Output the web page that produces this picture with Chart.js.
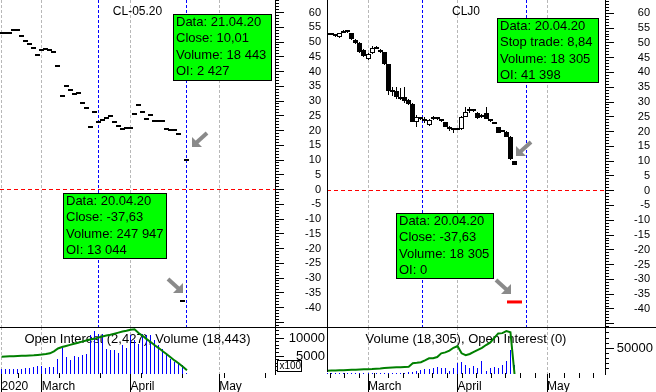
<!DOCTYPE html>
<html>
<head>
<meta charset="utf-8">
<title>CL-05.20 / CLJ0</title>
<script src="https://cdn.jsdelivr.net/npm/chart.js@4.4.1/dist/chart.umd.min.js"></script>
<style>
  html, body { margin: 0; padding: 0; background: #fff; }
  #wrap { position: relative; width: 656px; height: 392px; overflow: hidden; }
  #wrap canvas { position: absolute; }
</style>
</head>
<body>
<div id="wrap">
  <canvas id="leftPrice" width="327" height="327" style="left:0px;top:0px;width:327px;height:327px"></canvas>
  <canvas id="leftVol" width="327" height="65" style="left:0px;top:327px;width:327px;height:65px"></canvas>
  <canvas id="rightPrice" width="329" height="327" style="left:327px;top:0px;width:329px;height:327px"></canvas>
  <canvas id="rightVol" width="329" height="65" style="left:327px;top:327px;width:329px;height:65px"></canvas>
</div>
<script>
const FONT = 'Arial, "Liberation Sans", sans-serif';

// trading days shown on both panels (index = position on the x axis)
const days = ['14.02','18.02','19.02','20.02','21.02','24.02','25.02','26.02','27.02','28.02',
  '02.03','03.03','04.03','05.03','06.03','09.03','10.03','11.03','12.03','13.03',
  '16.03','17.03','18.03','19.03','20.03','23.03','24.03','25.03','26.03','27.03',
  '30.03','31.03','01.04','02.04','03.04','06.04','07.04','08.04','09.04','10.04',
  '13.04','14.04','15.04','16.04','17.04','20.04','21.04'];

// CL-05.20 (left panel)
const clClose = [52.9, 52.9, 53.2, 54.1, 54.1, 52.0, 50.4, 49.3, 47.9, 45.5,
  47.4, 47.7, 47.3, 46.5, 41.9, 31.8, 35.0, 33.7, 32.3, 32.6,
  29.2, 27.5, 21.1, 26.2, 22.8, 23.5, 24.1, 24.8, 22.8, 21.6,
  20.5, 20.8, 20.8, 25.5, 28.5, 26.2, 23.9, 25.1, 23.1, 23.1,
  23.1, 20.5, 20.2, 20.2, 18.7, -37.63, 10.01];
// volume and open interest, hundreds of contracts (axis is x100)
const clVolume = [1300, 1300, 1300, 1400, 1300, 1500, 1600, 1800, 1900, 2100,
  2200, 1800, 1900, 2000, 4100, 7100, 4600, 3900, 5100, 4600,
  5300, 5600, 10800, 11900, 11000, 11100, 6900, 6700, 6700, 5700,
  8100, 7100, 10800, 9500, 8400, 11200, 10700, 10700, 9400, 8000,
  7000, 5600, 4300, 3300, 2700, 2479, 184];
const clOpenInt = [4800, 4850, 4900, 4950, 5000, 5050, 5100, 5150, 5200, 5300,
  5400, 5550, 5750, 6300, 7100, 7500, 7800, 8100, 8400, 8700,
  9000, 9300, 9600, 9800, 10100, 10400, 10700, 10900, 11200, 11500,
  11800, 12000, 12300, 12400, 11400, 10600, 9700, 8900, 8000, 7200,
  6300, 5500, 4600, 3700, 2900, 2000, 1030];

// CLJ0 candles (right panel)
const cljOpen = [52.8, 53.0, 52.6, 51.9, 53.4, 54.1, 53.4, 51.0, 50.0, 47.6,
  44.6, 46.5, 48.6, 47.6, 46.8, 42.8, 33.9, 33.8, 31.8, 31.6,
  30.6, 29.4, 23.3, 24.6, 24.4, 22.2, 24.2, 24.5, 24.0, 23.2,
  21.3, 21.1, 20.6, 20.7, 25.0, 26.8, 27.2, 26.2, 24.8, 26.4,
  24.0, 23.0, 21.4, 20.0, 20.0, 18.3, 10.1];
const cljHigh = [53.0, 53.2, 52.9, 53.4, 54.2, 54.3, 53.5, 51.2, 50.2, 48.0,
  46.6, 48.8, 48.8, 47.8, 47.0, 42.9, 35.0, 35.0, 34.6, 35.0,
  30.9, 29.6, 25.6, 25.0, 25.0, 24.1, 25.2, 25.0, 24.3, 23.4,
  21.9, 21.3, 21.2, 25.2, 28.4, 28.4, 27.6, 26.6, 25.8, 28.2,
  24.2, 23.3, 21.6, 20.4, 20.3, 18.4, 10.2];
const cljLow = [52.8, 52.6, 52.0, 51.8, 53.2, 53.4, 51.0, 49.7, 46.7, 45.2,
  44.2, 46.2, 47.8, 46.6, 42.6, 32.4, 32.0, 31.1, 30.7, 29.5,
  29.0, 23.2, 21.6, 23.9, 23.0, 22.0, 23.8, 23.9, 23.3, 21.5,
  20.3, 19.4, 20.4, 20.5, 24.8, 26.2, 26.6, 24.3, 24.6, 24.2,
  23.2, 22.4, 19.5, 19.8, 18.2, 10.3, 8.7];
const cljClose = [53.0, 52.8, 52.2, 53.2, 54.0, 53.6, 51.2, 49.9, 46.9, 45.6,
  46.3, 48.4, 48.0, 46.8, 42.8, 33.8, 33.5, 31.8, 31.0, 30.3,
  29.3, 23.4, 25.0, 24.2, 23.6, 23.9, 24.5, 24.2, 23.5, 21.7,
  20.9, 20.5, 21.0, 25.0, 26.7, 27.2, 26.8, 24.5, 25.6, 24.4,
  23.5, 22.6, 19.6, 20.3, 18.3, 10.6, 8.84];
const cljVolume = [1200, 1400, 1300, 1500, 1400, 1600, 1500, 1700, 1600, 1800,
  1900, 1700, 1800, 2000, 2200, 2600, 2400, 2300, 2600, 2800,
  3000, 4500, 6500, 7800, 9100, 9100, 11000, 14300, 11000, 12000,
  5800, 12300, 20700, 22600, 17500, 10900, 15500, 10900, 25300, 5800,
  10900, 14200, 10900, 17500, 25300, 46700, 18305];
const cljOpenInt = [6400, 6600, 6900, 7200, 7500, 7800, 8100, 8400, 8700, 9000,
  9200, 9600, 10200, 10800, 11600, 12100, 12500, 12900, 13300, 13800,
  14300, 20800, 21800, 23000, 26500, 30500, 30500, 33000, 40200, 42000,
  45500, 51000, 54500, 40200, 36500, 39000, 43000, 47000, 51000, 56400,
  61000, 70000, 79000, 79500, 83600, 81000, 0];
const cljLastClose = -37.63;

// axis labels
const priceLabels = [60, 55, 50, 45, 40, 35, 30, 25, 20, 15, 10, 5, 0, -5, -10, -15, -20, -25, -30, -35, -40];
const priceMarks = priceLabels.concat([-45]);
const leftVolLabels = [10000, 5000];
const rightVolLabels = [50000];
const leftMonths = ['2020', 'March', 'April', 'May'];
const rightMonths = ['March', 'April', 'May'];
// first trading day of each month on the same index axis (01.05 = 54)
const leftMonthAt = [0, 10, 32, 54];
const rightMonthAt = [10, 32, 54];

const leftNoteTop = ['Data: 21.04.20', 'Close: 10,01', 'Volume: 18 443', 'OI: 2 427'];
const leftNoteLow = ['Data: 20.04.20', 'Close: -37,63', 'Volume: 247 947', 'OI: 13 044'];
const rightNoteTop = ['Data: 20.04.20', 'Stop trade: 8,84', 'Volume: 18 305', 'OI: 41 398'];
const rightNoteLow = ['Data: 20.04.20', 'Close: -37,63', 'Volume: 18 305', 'OI: 0'];

Chart.defaults.font.family = FONT;

// value axis on the right; its labels are written by panelDecor
function valueAxis(o) {
  return {
    position: 'right', min: o.min, max: o.max,
    afterFit: s => { s.width = o.width; s.paddingTop = 0; s.paddingBottom = 0; },
    afterBuildTicks: s => { s.ticks = o.marks.map(v => ({ value: v })); },
    grid: { drawOnChartArea: false, drawTicks: true, tickLength: 9, color: '#000', lineWidth: 1 },
    border: { display: true, color: '#000', width: 1 },
    ticks: { display: false }
  };
}

function timeAxis(o) {
  if (!o.names) return { type: 'linear', display: false, min: o.min, max: o.max, offset: false };
  return {
    type: 'linear', min: o.min, max: o.max, offset: false, position: 'bottom',
    afterFit: s => { s.height = 18; s.paddingLeft = 0; s.paddingRight = 0; },
    afterBuildTicks: s => { s.ticks = o.at.map(v => ({ value: v })); },
    grid: { display: false, drawTicks: false },
    border: { display: false },
    ticks: {
      align: 'start', padding: 5, maxRotation: 0, minRotation: 0, autoSkip: false,
      color: '#000', font: { family: FONT, size: 12 },
      callback: (v, n) => o.names[n]
    }
  };
}

// put thin marks on whole pixels so they stay crisp
function snapMarks(chart) {
  chart.getSortedVisibleDatasetMetas().forEach(meta => {
    if (!chart.data.datasets[meta.index].snap) return;
    meta.data.forEach(el => {
      if (!isFinite(el.x)) return;
      el.x = Math.floor(el.x) + 0.5;
      el.y = Math.round(el.y);
      if (el.base !== undefined) el.base = Math.round(el.base);
    });
  });
}

function line(ctx, x0, y0, x1, y1, color, dash) {
  ctx.save();
  ctx.strokeStyle = color;
  ctx.lineWidth = 1;
  ctx.setLineDash(dash || []);
  ctx.beginPath();
  ctx.moveTo(x0, y0);
  ctx.lineTo(x1, y1);
  ctx.stroke();
  ctx.restore();
}

function noteBox(ctx, n) {
  ctx.save();
  ctx.fillStyle = '#00ff00';
  ctx.fillRect(n.x, n.y, n.w, n.h);
  ctx.strokeStyle = '#000';
  ctx.lineWidth = 1;
  ctx.strokeRect(n.x + 0.5, n.y + 0.5, n.w - 1, n.h - 1);
  ctx.fillStyle = '#000';
  ctx.font = '13px ' + FONT;
  ctx.textAlign = 'left';
  ctx.textBaseline = 'middle';
  n.lines.forEach((t, k) => ctx.fillText(t, n.x + 3, n.y + 8.5 + k * 16.3));
  ctx.restore();
}

function arrow(ctx, a) {
  const w = 15, h = 14, head = 10;
  const sx = a.dir === 'dl' ? 1 : -1;
  const tipX = a.dir === 'dl' ? a.x : a.x + w;
  const tailX = a.dir === 'dl' ? a.x + w : a.x;
  const tipY = a.y + h;
  ctx.save();
  ctx.fillStyle = '#8a8a8a';
  ctx.strokeStyle = '#8a8a8a';
  ctx.beginPath();
  ctx.moveTo(tipX, tipY);
  ctx.lineTo(tipX, tipY - head);
  ctx.lineTo(tipX + sx * head, tipY);
  ctx.closePath();
  ctx.fill();
  ctx.lineWidth = 4;
  ctx.beginPath();
  ctx.moveTo(tipX + sx * 4, tipY - 4);
  ctx.lineTo(tailX, a.y);
  ctx.stroke();
  ctx.restore();
}

function panelDecor(p) {
  return {
    id: 'panelDecor',
    beforeDatasetsDraw(chart) {
      const ctx = chart.ctx, a = chart.chartArea, xs = chart.scales.x, ys = chart.scales.y;
      snapMarks(chart);
      p.months.forEach(i => {
        const x = Math.floor(xs.getPixelForValue(i)) + 0.5;
        line(ctx, x, a.top, x, a.bottom, '#b8b8b8', [3, 2]);
        if (p.kind === 'volume') line(ctx, x, a.bottom, x, chart.height, '#000');
      });
      if (p.kind === 'price') {
        p.blue.forEach(i => {
          const x = Math.floor(xs.getPixelForValue(i)) + 0.5;
          line(ctx, x, a.top, x, a.bottom, '#0000ff', [3, 2]);
        });
        const y0 = Math.round(ys.getPixelForValue(0) - 0.5) + 0.5;
        line(ctx, a.left, y0, a.right, y0, '#ff0000', [4, 3]);
      }
      ctx.save();
      ctx.fillStyle = '#000';
      if (p.kind === 'volume') {
        for (let i = p.tickStart; xs.getPixelForValue(i) < a.right; i += p.tickStep) {
          ctx.fillRect(Math.floor(xs.getPixelForValue(i)), a.bottom - 1, 1, 5);
        }
      }
      // minor ticks on the value axis
      for (let v = p.minorStep; v <= ys.max; v += p.minorStep) {
        if (p.majors.includes(v)) continue;
        ctx.fillRect(a.right, Math.round(ys.getPixelForValue(v) - 0.5), 4, 1);
      }
      for (let v = -p.minorStep; v >= ys.min; v -= p.minorStep) {
        if (p.majors.includes(v)) continue;
        ctx.fillRect(a.right, Math.round(ys.getPixelForValue(v) - 0.5), 4, 1);
      }
      // panel caption
      ctx.font = p.titleSize + 'px ' + FONT;
      ctx.textAlign = 'center';
      ctx.textBaseline = 'middle';
      ctx.fillText(p.title, (a.left + a.right) / 2, 12);
      ctx.restore();
    },
    afterDraw(chart) {
      const ctx = chart.ctx, a = chart.chartArea, ys = chart.scales.y;
      ctx.save();
      ctx.fillStyle = '#000';
      // value labels, right aligned against labelRight
      ctx.font = p.labelSize + 'px ' + FONT;
      ctx.textAlign = 'left';
      ctx.textBaseline = 'middle';
      p.labels.forEach(v => {
        const t = String(v);
        ctx.fillText(t, p.labelRight - ctx.measureText(t).width, Math.round(ys.getPixelForValue(v)));
      });
      if (p.border) ctx.fillRect(0, 0, 1, p.kind === 'price' ? a.bottom : a.bottom - 2);
      if (p.kind === 'volume') ctx.fillRect(0, 0, chart.width, 1);
      if (p.x100) {
        ctx.fillStyle = '#fff';
        ctx.fillRect(277, 33, 25, 12);
        ctx.strokeStyle = '#000';
        ctx.lineWidth = 1;
        ctx.strokeRect(277.5, 33.5, 24, 11);
        ctx.fillStyle = '#000';
        ctx.font = '10px ' + FONT;
        ctx.fillText('x100', 279.5, 39.5);
      }
      ctx.restore();
      (p.notes || []).forEach(n => noteBox(ctx, n));
      (p.arrows || []).forEach(r => arrow(ctx, r));
    }
  };
}

function baseOptions(scales) {
  return {
    responsive: false, maintainAspectRatio: false, animation: false, devicePixelRatio: 1, events: [],
    layout: { padding: 0, autoPadding: false },
    plugins: { legend: { display: false }, tooltip: { enabled: false }, title: { display: false } },
    scales: scales
  };
}

// ---- left: CL-05.20 ----
const leftX = { min: -0.387, max: 67.85 };

new Chart(document.getElementById('leftPrice'), {
  type: 'line',
  data: {
    datasets: [{
      data: clClose.map((v, i) => ({ x: i, y: v })),
      showLine: false, pointStyle: 'line', pointRadius: 2.5, pointBorderWidth: 2,
      pointBorderColor: '#000', pointBackgroundColor: '#000', snap: true
    }]
  },
  options: baseOptions({
    x: timeAxis(leftX),
    y: valueAxis({ min: -46.61, max: 64.24, width: 52, marks: priceMarks })
  }),
  plugins: [panelDecor({
    kind: 'price', title: 'CL-05.20', titleSize: 12, months: leftMonthAt, blue: [24, 46],
    minorStep: 1, majors: priceMarks, labels: priceLabels, labelSize: 11, labelRight: 321,
    notes: [{ x: 173, y: 14, w: 99, h: 67, lines: leftNoteTop },
            { x: 63, y: 193, w: 104, h: 66, lines: leftNoteLow }],
    arrows: [{ x: 192, y: 133, dir: 'dl' }, { x: 168, y: 279, dir: 'dr' }]
  })]
});

new Chart(document.getElementById('leftVol'), {
  type: 'bar',
  data: {
    datasets: [{
      type: 'line', data: clOpenInt.map((v, i) => ({ x: i, y: v })),
      borderColor: '#008000', borderWidth: 2, pointRadius: 0, tension: 0, order: 0
    }, {
      type: 'bar', data: clVolume.map((v, i) => ({ x: i, y: v })),
      backgroundColor: '#0000ff', maxBarThickness: 1, inflateAmount: 0, grouped: false,
      order: 1, snap: true
    }]
  },
  options: baseOptions({
    x: timeAxis({ min: leftX.min, max: leftX.max, at: leftMonthAt, names: leftMonths }),
    y: valueAxis({ min: 0, max: 13056, width: 52, marks: leftVolLabels })
  }),
  plugins: [panelDecor({
    kind: 'volume', title: 'Open Interest (2,427), Volume (18,443)', titleSize: 13,
    months: leftMonthAt, tickStart: 4.2, tickStep: 10.2,
    minorStep: 1000, majors: leftVolLabels, labels: leftVolLabels, labelSize: 13, labelRight: 325,
    x100: true
  })]
});

// ---- right: CLJ0 ----
const rightX = { min: -0.074, max: 68.23 };

new Chart(document.getElementById('rightPrice'), {
  type: 'bar',
  data: {
    datasets: [{
      type: 'line', data: [{ x: days.length - 1, y: cljLastClose }],
      showLine: false, pointStyle: 'line', pointRadius: 7.5, pointBorderWidth: 3,
      pointBorderColor: '#ff0000', order: 0
    }, {
      type: 'bar', data: cljOpen.map((o, i) => ({ x: i, y: [o, cljClose[i]] })),
      backgroundColor: cljOpen.map((o, i) => cljClose[i] >= o ? '#fff' : '#000'),
      borderColor: '#000', borderWidth: 1, borderSkipped: false,
      grouped: false, categoryPercentage: 1, barPercentage: 1.5, maxBarThickness: 5,
      minBarLength: 2, inflateAmount: 0, order: 1, snap: true
    }, {
      type: 'bar', data: cljLow.map((l, i) => ({ x: i, y: [l, cljHigh[i]] })),
      backgroundColor: '#000', grouped: false, maxBarThickness: 1, inflateAmount: 0,
      order: 2, snap: true
    }]
  },
  options: baseOptions({
    x: timeAxis(rightX),
    y: valueAxis({ min: -46.1, max: 64.5, width: 51, marks: priceMarks })
  }),
  plugins: [panelDecor({
    kind: 'price', title: 'CLJ0', titleSize: 12, months: rightMonthAt, blue: [23.5, 49],
    minorStep: 1, majors: priceMarks, labels: priceLabels, labelSize: 11, labelRight: 323,
    border: true,
    notes: [{ x: 170, y: 18, w: 102, h: 65, lines: rightNoteTop },
            { x: 69, y: 213, w: 98, h: 66, lines: rightNoteLow }],
    arrows: [{ x: 189, y: 142, dir: 'dl' }, { x: 169, y: 280, dir: 'dr' }]
  })]
});

new Chart(document.getElementById('rightVol'), {
  type: 'bar',
  data: {
    datasets: [{
      type: 'line', data: cljOpenInt.map((v, i) => ({ x: i, y: v })),
      borderColor: '#008000', borderWidth: 2, pointRadius: 0, tension: 0, order: 0
    }, {
      type: 'bar', data: cljVolume.map((v, i) => ({ x: i, y: v })),
      backgroundColor: '#0000ff', maxBarThickness: 1, inflateAmount: 0, grouped: false,
      order: 1, snap: true
    }]
  },
  options: baseOptions({
    x: timeAxis({ min: rightX.min, max: rightX.max, at: rightMonthAt, names: rightMonths }),
    y: valueAxis({ min: 0, max: 91440, width: 51, marks: rightVolLabels })
  }),
  plugins: [panelDecor({
    kind: 'volume', title: 'Volume (18,305), Open Interest (0)', titleSize: 13,
    months: rightMonthAt, tickStart: 0.7, tickStep: 3.6, border: true,
    minorStep: 10000, majors: rightVolLabels, labels: rightVolLabels, labelSize: 13, labelRight: 326
  })]
});
</script>
</body>
</html>
